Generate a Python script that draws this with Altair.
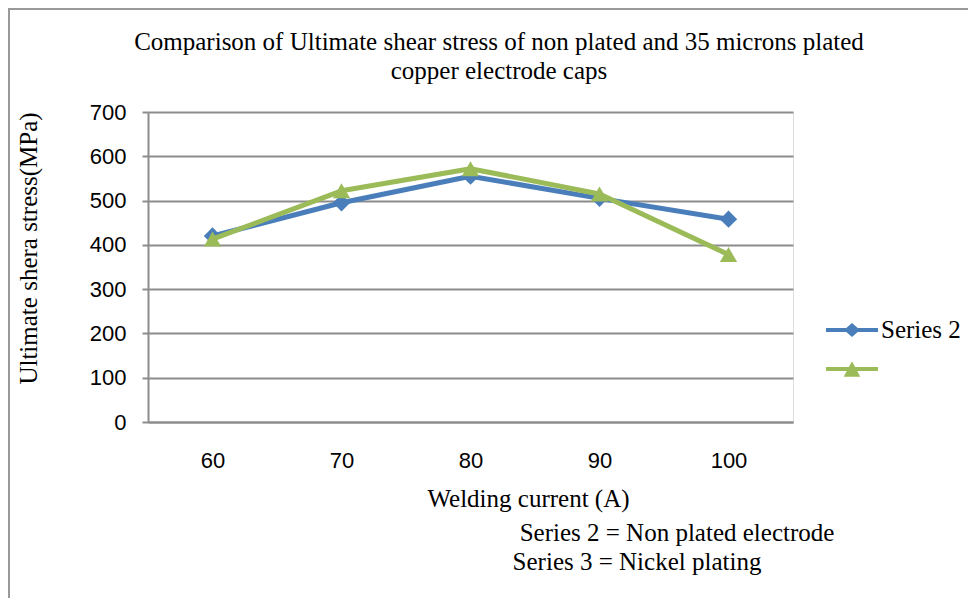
import altair as alt
import pandas as pd

# ---- data ----
currents = [60, 70, 80, 90, 100]
series_names = ["Series 2", "Series 3"]
series2 = [420, 495, 555, 505, 458]   # Non plated electrode
series3 = [413, 522, 572, 515, 378]   # Nickel plating
y_ticks = [0, 100, 200, 300, 400, 500, 600, 700]
colors = ["#4A7EBB", "#9BBB59"]

title_line1 = "Comparison of Ultimate shear stress of non plated and 35 microns plated"
title_line2 = "copper electrode caps"
x_title = "Welding current (A)"
y_title = "Ultimate shera stress(MPa)"
caption1 = "Series 2 =  Non plated electrode"
caption2 = "Series 3 = Nickel plating"

rows = []
for name, vals in zip(series_names, [series2, series3]):
    for c, v in zip(currents, vals):
        rows.append({"current": str(c), "value": v, "series": name})
df = pd.DataFrame(rows)

SERIF = "Liberation Serif"
SANS = "Liberation Sans"
GRID = "#8c8c8c"
SERIF_SIZE = 25
TICK_SIZE = 22

x_enc = alt.X("current:O", sort=[str(c) for c in currents],
              scale=alt.Scale(type="point", padding=0.5),
              axis=alt.Axis(title=x_title, labelAngle=0, ticks=False, grid=False,
                            domainColor=GRID, domainWidth=2,
                            labelFont=SANS, labelFontSize=TICK_SIZE, labelColor="black",
                            labelPadding=28,
                            titleFont=SERIF, titleFontSize=SERIF_SIZE, titleFontWeight="normal",
                            titleColor="black", titleX=380, titleY=64))
y_enc = alt.Y("value:Q", scale=alt.Scale(domain=[0, 700], nice=False),
              axis=alt.Axis(title=y_title, values=y_ticks, tickSize=6, tickColor=GRID,
                            tickWidth=2, domainColor=GRID, domainWidth=2,
                            grid=True, gridColor=GRID, gridWidth=2,
                            labelFont=SANS, labelFontSize=TICK_SIZE, labelColor="black",
                            labelPadding=16,
                            titleFont=SERIF, titleFontSize=SERIF_SIZE, titleFontWeight="normal",
                            titleColor="black", titleX=-120, titleY=136,
                            titleAngle=-90, titleBaseline="middle"))

base = alt.Chart(df).encode(x=x_enc, y=y_enc)

def series_layers(name, color, shape):
    sub = base.transform_filter(alt.datum.series == name)
    line = sub.mark_line(color=color, strokeWidth=5, strokeJoin="round", strokeCap="round")
    pts = sub.mark_point(shape=shape, filled=True, color=color, size=300, opacity=1)
    return [line, pts]

# legend symbols: line + marker as custom paths
diamond_path = "M-1,-0.08H1V0.08H-1Z M-0.31,0L0,-0.27L0.31,0L0,0.27Z"
triangle_path = "M-1,-0.08H1V0.08H-1Z M0,-0.3L0.32,0.3L-0.32,0.3Z"
leg = alt.Legend(title=None, orient="none", legendX=678, legendY=192,
                 symbolSize=2704, symbolStrokeWidth=0, symbolOpacity=1,
                 labelFont=SERIF, labelFontSize=SERIF_SIZE, labelColor="black", labelOffset=3,
                 rowPadding=-12, padding=0,
                 labelExpr="datum.label == 'Series 3' ? '' : datum.label")
legend_layer = base.mark_point(filled=True, opacity=0).encode(
    color=alt.Color("series:N", scale=alt.Scale(domain=series_names, range=colors), legend=leg),
    shape=alt.Shape("series:N", scale=alt.Scale(domain=series_names,
                                                range=[diamond_path, triangle_path]), legend=leg),
)

def text_layer(txt, x, y):
    return alt.Chart(pd.DataFrame({"t": [txt]})).mark_text(
        font=SERIF, fontSize=SERIF_SIZE, color="black", align="center", baseline="middle"
    ).encode(text="t:N", x=alt.value(x), y=alt.value(y))

title1 = text_layer(title_line1, 351, -70)
title2 = text_layer(title_line2, 351, -41)
cap1 = text_layer(caption1, 529, 421)
cap2 = text_layer(caption2, 489, 450)

frame_left = alt.Chart(pd.DataFrame({"a": [0]})).mark_rule(color="#999999", strokeWidth=2).encode(
    x=alt.value(-139), y=alt.value(-104), y2=alt.value(486))
frame_top = alt.Chart(pd.DataFrame({"a": [0]})).mark_rule(color="#999999", strokeWidth=2).encode(
    x=alt.value(-140), x2=alt.value(830), y=alt.value(-103))

layers = (series_layers("Series 2", colors[0], "diamond")
          + series_layers("Series 3", colors[1], "triangle-up"))

chart = alt.layer(frame_left, frame_top, *layers, legend_layer,
                  title1, title2, cap1, cap2).properties(
    width=645, height=310,
    padding={"left": 140, "top": 104, "right": 175, "bottom": 176},
    autosize=alt.AutoSizeParams(type="none"),
).configure_view(stroke=None).configure(background="white")

chart.save("out.html", embed_options={"renderer": "svg", "actions": False})
